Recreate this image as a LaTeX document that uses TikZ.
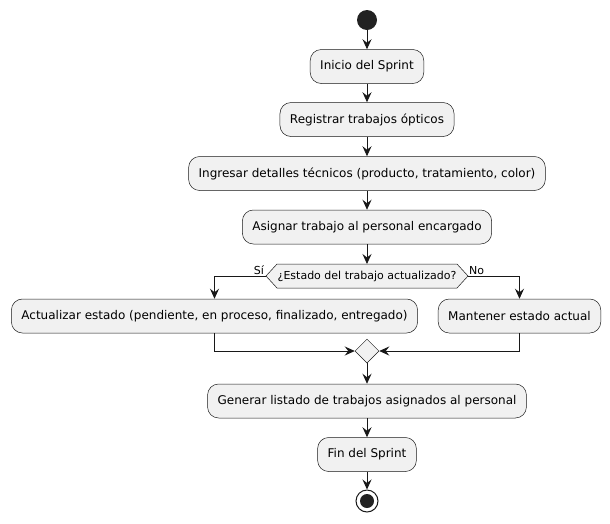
\documentclass[tikz,border=0pt]{standalone}
\usepackage{fontspec}
\setmainfont{DejaVu Sans}
\usepackage{tikz}
\usetikzlibrary{arrows.meta, shapes.geometric}
\definecolor{lineC}{HTML}{181818}
\definecolor{boxC}{HTML}{F1F1F1}
\definecolor{dotC}{HTML}{222222}

\begin{document}
\begin{tikzpicture}[x=1pt, y=-1pt,
    act/.style={draw=lineC, fill=boxC, line width=0.5pt, rounded corners=11pt,
        minimum height=34pt, inner xsep=10pt, inner ysep=0pt, font=\fontsize{12}{14}\selectfont},
    arr/.style={-{Stealth[length=10pt, width=9pt, inset=3.5pt]}, lineC, line width=0.8pt},
    lbl/.style={font=\fontsize{11}{13}\selectfont, inner sep=1pt}]
    \useasboundingbox (0,0) rectangle (610,523);
    \def\mid{367}

    \node[circle, fill=dotC, minimum size=20pt, inner sep=0pt] (start) at (\mid,20) {};
    \foreach \n/\y/\t in {s1/66.5/{Inicio del Sprint},
                          s2/119.5/{Registrar trabajos ópticos},
                          s3/173.5/{Ingresar detalles técnicos (producto, tratamiento, color)},
                          s4/227/{Asignar trabajo al personal encargado},
                          s5/401/{Generar listado de trabajos asignados al personal},
                          s6/454.5/{Fin del Sprint}} {
        \node[act] (\n) at (\mid,\y) {\t};
    }
    \foreach \a/\b in {start/s1, s1/s2, s2/s3, s3/s4, s5/s6} {
        \draw[arr] (\a.south) -- (\b.north);
    }

    \draw[lineC, fill=boxC, line width=0.5pt] (266,276) -- (277,264) -- (457,264)
        -- (468,276) -- (457,288) -- (277,288) -- cycle;
    \node[lbl] (q) at (\mid,276) {¿Estado del trabajo actualizado?};
    \coordinate (qT) at (\mid,264);
    \coordinate (qL) at (266,276);
    \coordinate (qR) at (468,276);
    \draw[arr] (s4.south) -- (qT);

    \node[act] (yes) at (214.5,316) {Actualizar estado (pendiente, en proceso, finalizado, entregado)};
    \node[act] (no) at (519.5,316) {Mantener estado actual};
    \draw[arr] (qL) -| (yes.north);
    \draw[arr] (qR) -| (no.north);
    \node[lbl, anchor=south east] (si) at (265,276) {Sí};
    \node[lbl, anchor=south west] (nolbl) at (468,276) {No};

    \node[diamond, draw=lineC, fill=boxC, line width=0.5pt, minimum size=24pt, inner sep=0pt] (m) at (\mid,351) {};
    \draw[arr] (yes.south) |- (m.west);
    \draw[arr] (no.south) |- (m.east);
    \draw[arr] (m.south) -- (s5.north);

    \node[circle, draw=lineC, line width=1pt, fill=white, minimum size=22pt, inner sep=0pt] (stop) at (\mid,501) {};
    \fill[dotC] (stop) circle (7pt);
    \draw[arr] (s6.south) -- (stop.north);
\end{tikzpicture}
\end{document}
